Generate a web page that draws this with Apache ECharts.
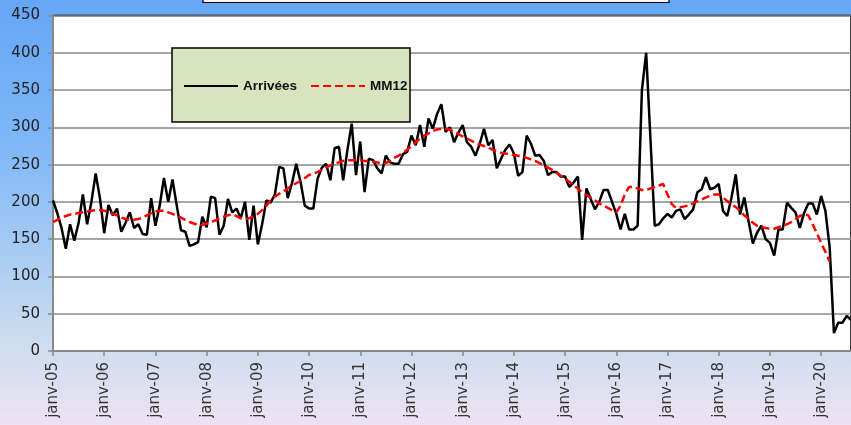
<!DOCTYPE html>
<html>
<head>
<meta charset="utf-8">
<script src="https://cdn.jsdelivr.net/npm/echarts@6/dist/echarts.min.js"></script>
<style>
  html, body { margin: 0; padding: 0; }
  #chart { width: 851px; height: 425px; }
</style>
</head>
<body>
<div id="chart"></div>
<script>
// month names and years used to build the monthly categories
var monthNames = ['janv', 'févr', 'mars', 'avr', 'mai', 'juin', 'juil', 'août', 'sept', 'oct', 'nov', 'déc']
var years = ['05', '06', '07', '08', '09', '10', '11', '12', '13', '14', '15', '16', '17', '18', '19', '20']

// Arrivées, monthly from janv-05
var arrivees = [
  202, 185, 165, 137, 170, 148, 172, 210, 170, 200, 238, 205,
  158, 196, 182, 191, 160, 172, 186, 165, 170, 157, 156, 205,
  168, 195, 232, 200, 230, 195, 162, 160, 141, 143, 146, 180,
  166, 207, 205, 156, 168, 204, 186, 191, 178, 200, 149, 195,
  143, 170, 202, 199, 210, 247, 245, 205, 225, 251, 227, 195,
  191, 191, 231, 246, 251, 229, 272, 274, 229, 270, 305, 236,
  281, 213, 258, 256, 245, 238, 262, 253, 251, 251, 264, 267,
  289, 276, 303, 274, 312, 298, 318, 331, 294, 300, 280, 293,
  303, 280, 274, 262, 278, 298, 276, 283, 245, 258, 270, 277,
  265, 235, 240, 289, 278, 262, 263, 255, 236, 240, 240, 234,
  234, 220, 226, 234, 149, 218, 204, 190, 200, 216, 216, 200,
  184, 163, 184, 163, 163, 168, 350, 400, 285, 168, 170, 178,
  184, 179, 188, 190, 177, 183, 190, 213, 217, 233, 217, 219,
  224, 188, 181, 206, 237, 183, 206, 174, 144, 159, 168, 150,
  145, 128, 163, 163, 199, 192, 186, 165, 185, 198, 198, 183,
  208, 188, 139, 24, 38, 38, 47, 42
]

// MM12 (moyenne mobile 12 mois)
var mm12 = [
  173, 176, 179, 181, 183, 184, 185, 186, 187, 188, 189, 189,
  188, 187, 184, 182, 179, 177, 176, 176, 177, 179, 182, 185,
  187, 188, 188, 186, 184, 181, 179, 176, 173, 171, 169, 169,
  171, 173, 175, 178, 180, 182, 183, 181, 178, 177, 178, 181,
  184, 189, 195, 202, 207, 211, 214, 218, 222, 225, 228, 232,
  236, 238, 240, 243, 246, 249, 251, 253, 255, 256, 256, 256,
  256, 255, 255, 254, 253, 251, 252, 255, 259, 262, 266, 270,
  275, 280, 285, 289, 292, 295, 297, 298, 298, 297, 294, 291,
  288, 285, 282, 279, 277, 275, 273, 270, 268, 266, 265, 264,
  263, 262, 261, 259, 257, 255, 252, 249, 246, 243, 239, 235,
  231, 227, 222, 218, 213, 209, 206, 202, 198, 195, 192, 189,
  186, 195, 210, 220, 220, 218, 216, 216, 218, 220, 222, 224,
  210, 197, 192, 193, 194, 195, 198, 201, 203, 206, 208, 210,
  210, 206, 201, 197, 193, 188, 182, 177, 172, 168, 166, 165,
  164, 164, 166, 168, 170, 173, 177, 181, 183, 182, 170, 158,
  145, 133, 120
]

var yMin = 0
var yMax = 450
var yStep = 50

var categories = []
years.forEach(function(y) {
  monthNames.forEach(function(m) {
    categories.push(m + '-' + y)
  })
})
categories = categories.slice(0, arrivees.length)

var chart = echarts.init(document.getElementById('chart'))

chart.setOption({
  animation: false,
  backgroundColor: {
    type: 'linear', x: 0, y: 0, x2: 0, y2: 1,
    colorStops: [
      { offset: 0, color: '#66a6f6' },
      { offset: 0.35, color: '#80b8f8' },
      { offset: 0.6, color: '#a8ccf3' },
      { offset: 0.8, color: '#cddcef' },
      { offset: 1, color: '#ece3f2' }
    ]
  },
  graphic: [
    {
      // title box, cut off at the top
      type: 'rect',
      shape: { x: 203, y: -20, width: 466, height: 22.5 },
      style: { fill: '#f7f7f7', stroke: '#000', lineWidth: 1.2 },
      z: 10
    },
    {
      // legend box
      type: 'rect',
      shape: { x: 172, y: 48, width: 238, height: 74 },
      style: { fill: '#d7e4bd', stroke: '#000', lineWidth: 1.5 },
      z: 10
    }
  ],
  legend: {
    left: 183,
    top: 79,
    padding: 0,
    itemWidth: 54,
    itemHeight: 14,
    itemGap: 13,
    z: 11,
    // hide the symbol in the legend icon, keep only the line
    itemStyle: { opacity: 0 },
    textStyle: {
      fontFamily: 'Liberation Sans',
      fontWeight: 'bold',
      fontSize: 13.5,
      color: '#111'
    },
    data: ['Arrivées', 'MM12']
  },
  grid: {
    left: 53,
    right: -1,
    top: 15.5,
    bottom: 74,
    show: true,
    backgroundColor: '#fff',
    borderColor: '#000',
    borderWidth: 1.5
  },
  xAxis: {
    type: 'category',
    data: categories,
    boundaryGap: false,
    axisLine: { lineStyle: { color: '#888', width: 2 } },
    axisTick: {
      interval: function(i) { return i % 12 === 0 },
      length: 5,
      lineStyle: { color: '#888', width: 1.5 }
    },
    axisLabel: {
      interval: function(i) { return i % 12 === 0 },
      rotate: 90,
      margin: 11,
      fontFamily: 'DejaVu Sans',
      fontSize: 15,
      color: '#333'
    },
    splitLine: { show: false }
  },
  yAxis: {
    type: 'value',
    min: yMin,
    max: yMax,
    interval: yStep,
    axisLine: { show: true, lineStyle: { color: '#888', width: 2 } },
    axisTick: { show: true, length: 5, lineStyle: { color: '#888', width: 1.5 } },
    axisLabel: {
      margin: 13,
      fontFamily: 'DejaVu Sans',
      fontSize: 15,
      color: '#222'
    },
    splitLine: { lineStyle: { color: '#888', width: 1.5 } }
  },
  series: [
    {
      name: 'Arrivées',
      type: 'line',
      data: arrivees,
      symbol: 'none',
      itemStyle: { color: '#000' },
      lineStyle: { color: '#000', width: 2.5 }
    },
    {
      name: 'MM12',
      type: 'line',
      data: mm12,
      symbol: 'none',
      itemStyle: { color: '#ff0000' },
      lineStyle: { color: '#ff0000', width: 2.5, type: [8, 4] }
    }
  ]
})
</script>
</body>
</html>
